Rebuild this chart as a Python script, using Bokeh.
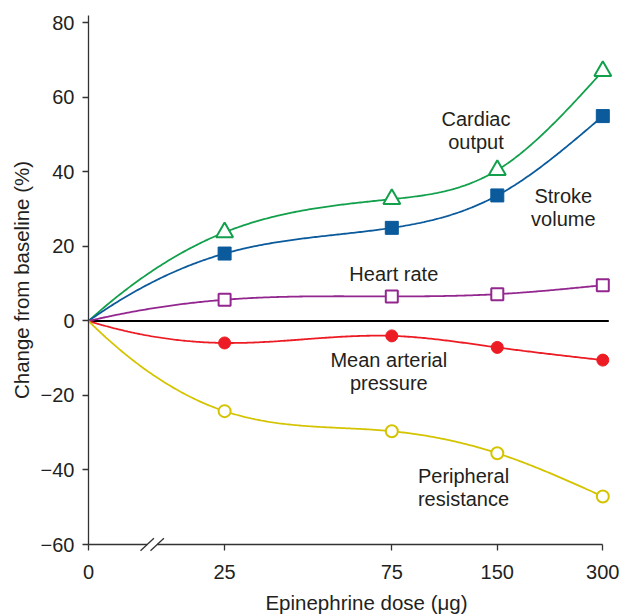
import numpy as np
from bokeh.plotting import figure
from bokeh.models import Range1d, FixedTicker, ColumnDataSource
from bokeh.core.properties import value
from bokeh.embed import file_html
from bokeh.resources import INLINE

# ---------------- data ----------------
doses = [0, 25, 75, 150, 300]
dose_labels = ["0", "25", "75", "150", "300"]
cardiac_output = [0, 23.8, 32.7, 40.5, 67.1]
stroke_volume = [0, 18.1, 25.0, 33.7, 55.0]
heart_rate = [0, 5.7, 6.6, 7.2, 9.6]
mean_arterial_pressure = [0, -5.9, -4.0, -7.1, -10.5]
peripheral_resistance = [0, -24.2, -29.6, -35.5, -47.1]
y_ticks = [-60, -40, -20, 0, 20, 40, 60, 80]

# ---------------- styling / layout ----------------
FONT = "Liberation Sans"
TXT = "#231f20"
AX = "#333333"
GREEN = "#12a04c"
BLUE = "#0a5a9c"
PURPLE = "#93278f"
RED = "#ed1c24"
YELLOW = "#d4c400"

W, H = 620, 616
TOP, LEFT = 15, 88                         # where the axes sit in the picture
Y_AXIS_MIN, Y_AXIS_MAX = -60, 82
PPU = 529 / (Y_AXIS_MAX - Y_AXIS_MIN)      # pixels per y unit


def px(n):
    return n / PPU


def dose_pos(d):
    # 0 sits left of an axis break; doses from 25 on are spaced logarithmically
    return 0.0 if d == 0 else round(136.1 + 105.5 * np.log2(d / 25.0), 1)


x_pos = [dose_pos(d) for d in doses]


def smooth(xs, ys, n=300):
    """cubic spline through the measured points (parabolic run-out at the start,
    natural at the end), used only to draw the smooth curve"""
    xs = np.asarray(xs, float)
    ys = np.asarray(ys, float)
    k = len(xs)
    h = np.diff(xs)
    A = np.zeros((k, k))
    b = np.zeros(k)
    A[0, 0], A[0, 1] = 1.0, -1.0
    A[-1, -1] = 1.0
    for i in range(1, k - 1):
        A[i, i - 1] = h[i - 1]
        A[i, i] = 2 * (h[i - 1] + h[i])
        A[i, i + 1] = h[i]
        b[i] = 6 * ((ys[i + 1] - ys[i]) / h[i] - (ys[i] - ys[i - 1]) / h[i - 1])
    M = np.linalg.solve(A, b)
    xx = np.linspace(xs[0], xs[-1], n)
    idx = np.clip(np.searchsorted(xs, xx) - 1, 0, k - 2)
    x0, x1 = xs[idx], xs[idx + 1]
    hh = x1 - x0
    t0, t1 = x1 - xx, xx - x0
    yy = (M[idx] * t0 ** 3 / (6 * hh) + M[idx + 1] * t1 ** 3 / (6 * hh)
          + (ys[idx] / hh - M[idx] * hh / 6) * t0
          + (ys[idx + 1] / hh - M[idx + 1] * hh / 6) * t1)
    return xx, yy


# the frame covers the whole canvas; the axes are pinned at their positions
p = figure(width=W, height=H,
           x_range=Range1d(-LEFT, W - LEFT),
           y_range=Range1d(Y_AXIS_MAX - px(H - TOP), Y_AXIS_MAX + px(TOP)),
           output_backend="svg", toolbar_location=None,
           min_border_left=0, min_border_right=0,
           min_border_top=0, min_border_bottom=0)
p.outline_line_color = None
p.xgrid.grid_line_color = None
p.ygrid.grid_line_color = None
p.background_fill_color = "white"
p.border_fill_color = "white"

# axes
xa = p.xaxis[0]
xa.fixed_location = Y_AXIS_MIN
xa.ticker = FixedTicker(ticks=x_pos)
xa.major_label_overrides = {xp: lab for xp, lab in zip(x_pos, dose_labels)}
xa.bounds = (0, x_pos[-1])
ya = p.yaxis[0]
ya.fixed_location = 0
ya.bounds = (Y_AXIS_MIN, Y_AXIS_MAX)
ya.ticker = FixedTicker(ticks=y_ticks)
ya.major_label_overrides = {t: (str(t) if t >= 0 else "\u2212" + str(-t)) for t in y_ticks}
ya.axis_label = "Change from baseline (%)"
ya.axis_label_standoff = 5
ya.axis_label_text_font = FONT
ya.axis_label_text_font_size = "20.5px"
ya.axis_label_text_font_style = "normal"
ya.axis_label_text_color = TXT
for ax, so in ((xa, 14), (ya, 8)):
    ax.axis_line_color = AX
    ax.axis_line_width = 1.3
    ax.major_tick_line_color = AX
    ax.major_tick_line_width = 1.3
    ax.major_tick_in = 0
    ax.major_tick_out = 6
    ax.minor_tick_line_color = None
    ax.major_label_text_font = FONT
    ax.major_label_text_font_size = "20px"
    ax.major_label_text_color = TXT
    ax.major_label_standoff = so

# x axis title
p.text(x=[366 - LEFT], y=[Y_AXIS_MIN - px(57.5)], text=["Epinephrine dose (\u03bcg)"],
       text_align="center", text_baseline="alphabetic", text_font=value(FONT),
       text_font_size="20.5px", text_color=TXT)

# axis break marks (drawn above the axis line)
brk = 63.7
p.segment(x0=[brk - 5], y0=[Y_AXIS_MIN], x1=[brk + 5], y1=[Y_AXIS_MIN],
          line_color="white", line_width=4, level="overlay")
for cx in (brk - 5, brk + 5):
    p.segment(x0=[cx - 6.7], y0=[Y_AXIS_MIN - px(6.3)], x1=[cx + 6.7],
              y1=[Y_AXIS_MIN + px(6.3)], line_color=AX, line_width=1.3, level="overlay")

# zero line
p.segment(x0=[0], y0=[0], x1=[x_pos[-1] + 6], y1=[0], line_color="black", line_width=1.8)

series = [
    (cardiac_output, GREEN, "triangle", 17, "white"),
    (stroke_volume, BLUE, "square", 13, BLUE),
    (heart_rate, PURPLE, "square", 12, "white"),
    (mean_arterial_pressure, RED, "circle", 12, RED),
    (peripheral_resistance, YELLOW, "circle", 12, "white"),
]
for vals, col, _, _, _ in series:
    sx, sy = smooth(x_pos, vals)
    p.line(sx, sy, line_color=col, line_width=1.8)
for vals, col, mk, sz, fill in series:
    src = ColumnDataSource(dict(x=x_pos[1:], y=vals[1:]))
    p.scatter("x", "y", source=src, marker=mk, size=sz, fill_color=fill,
              line_color=col, line_width=2 if fill == "white" else 1)

# series labels
lab_text = ["Cardiac", "output", "Stroke", "volume", "Heart rate",
            "Mean arterial", "pressure", "Peripheral", "resistance"]
lab_x = [387.5, 387.5, 474.8, 474.8, 305.3, 300.3, 300.3, 375.0, 375.0]
lab_y = [54.1, 48.1, 33.5, 27.5, 12.7, -10.6, -16.6, -41.5, -47.9]
p.text(x=lab_x, y=lab_y, text=lab_text, text_align="center",
       text_baseline="alphabetic", text_font=value(FONT),
       text_font_size="20px", text_color=TXT)

open("out.html", "w").write(file_html(p, INLINE))
